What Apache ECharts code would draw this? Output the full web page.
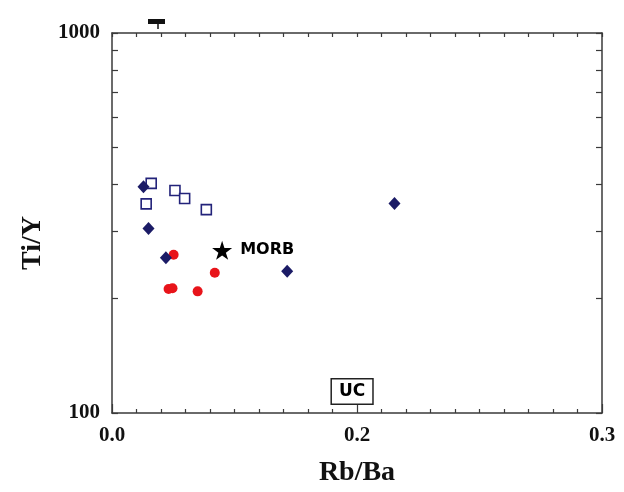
<!DOCTYPE html>
<html>
<head>
<meta charset="utf-8">
<script src="https://cdn.jsdelivr.net/npm/echarts@6/dist/echarts.min.js"></script>
<style>
  html, body { margin: 0; padding: 0; background: #fff; }
  #main { width: 624px; height: 492px; }
</style>
</head>
<body>
<div id="main"></div>
<script>
// values (x = Rb/Ba, y = Ti/Y)
const diamondRbBa = [0.0257, 0.0298, 0.044, 0.143, 0.2306];
const diamondTiY = [394, 306, 256, 236, 356];

const squareRbBa = [0.032, 0.0279, 0.0514, 0.0593, 0.077];
const squareTiY = [402, 355, 385, 367, 343];

const circleRbBa = [0.0503, 0.0839, 0.0462, 0.0494, 0.0699];
const circleTiY = [261, 234, 212, 213, 209];

const morbPoint = [0.0899, 268];
const ucPoint = [0.196, 114];

// tick labels as printed in the figure
const xTickValues = [0, 0.2, 0.4];
const xTickLabels = ["0.0", "0.2", "0.3"];
const yTickLabels = [100, 1000];
const yMinorTicks = [100, 200, 300, 400, 500, 600, 700, 800, 900, 1000];

function pairs(xs, ys) {
  return xs.map((x, i) => [x, ys[i]]);
}

const axisColor = "#3a3a3a";
const labelFont = {
  fontFamily: "Liberation Serif",
  fontWeight: "bold",
  fontSize: 21,
  color: "#111",
};
const starPath = "path://M50,0 L61,35 L98,35 L68,57 L79,91 L50,70 L21,91 L32,57 L2,35 L39,35 Z";

const options = {
  animation: false,
  grid: { left: 112, right: 22, top: 33, bottom: 78 },
  xAxis: [
    {
      type: "value",
      position: "bottom",
      min: 0,
      max: 0.4,
      interval: 0.2,
      name: "Rb/Ba",
      nameLocation: "middle",
      nameGap: 46,
      nameTextStyle: { fontFamily: "Liberation Serif", fontWeight: "bold", fontSize: 28, color: "#111" },
      axisLine: { onZero: false, lineStyle: { color: axisColor, width: 1.5 } },
      axisTick: { inside: true, length: 9, lineStyle: { color: axisColor, width: 1.2 } },
      minorTick: { show: true, splitNumber: 10, length: 4, lineStyle: { color: axisColor, width: 1.2 } },
      splitLine: { show: false },
      axisLabel: Object.assign({
        margin: 12,
        showMinLabel: true,
        showMaxLabel: true,
        formatter: (v) => {
          const i = xTickValues.findIndex((t) => Math.abs(t - v) < 1e-9);
          return i >= 0 ? xTickLabels[i] : "";
        },
      }, labelFont),
    },
    {
      type: "value",
      position: "top",
      min: 0,
      max: 0.4,
      interval: 0.2,
      axisLine: { onZero: false, lineStyle: { color: axisColor, width: 1.5 } },
      axisTick: { inside: true, length: 4, lineStyle: { color: axisColor, width: 1.2 } },
      minorTick: { show: true, splitNumber: 10, length: 4, lineStyle: { color: axisColor, width: 1.2 } },
      splitLine: { show: false },
      axisLabel: { show: false },
    },
  ],
  yAxis: [
    {
      type: "log",
      position: "left",
      logBase: 10,
      min: 100,
      max: 1000,
      name: "Ti/Y",
      nameLocation: "middle",
      nameGap: 62,
      nameTextStyle: {
        fontFamily: "Liberation Serif", fontWeight: "bold", fontSize: 28, color: "#111",
        padding: [0, 40, 0, 0],
      },
      axisLine: { onZero: false, lineStyle: { color: axisColor, width: 1.5 } },
      axisTick: { show: true, inside: true, length: 6, customValues: yMinorTicks, lineStyle: { color: axisColor, width: 1.2 } },
      splitLine: { show: false },
      axisLabel: Object.assign({
        margin: 12,
        customValues: yTickLabels,
        showMinLabel: true,
        showMaxLabel: true,
        formatter: (v) => String(Math.round(v)),
      }, labelFont),
    },
    {
      type: "log",
      position: "right",
      logBase: 10,
      min: 100,
      max: 1000,
      axisLine: { show: true, onZero: false, lineStyle: { color: axisColor, width: 1.5 } },
      axisTick: { show: true, inside: true, length: 6, customValues: yMinorTicks, lineStyle: { color: axisColor, width: 1.2 } },
      splitLine: { show: false },
      axisLabel: { show: false },
    },
  ],
  series: [
    {
      name: "squares",
      type: "scatter",
      symbol: "rect",
      symbolSize: 10,
      itemStyle: { color: "#fff", borderColor: "#23237a", borderWidth: 1.6, opacity: 1 },
      data: pairs(squareRbBa, squareTiY),
    },
    {
      name: "circles",
      type: "scatter",
      symbol: "circle",
      symbolSize: 10,
      itemStyle: { color: "#e8141a", opacity: 1 },
      data: pairs(circleRbBa, circleTiY),
    },
    {
      name: "diamonds",
      type: "scatter",
      symbol: "diamond",
      symbolSize: [12, 13],
      itemStyle: { color: "#1b1b66", opacity: 1 },
      data: pairs(diamondRbBa, diamondTiY),
    },
    {
      name: "MORB",
      type: "scatter",
      symbol: starPath,
      symbolKeepAspect: true,
      symbolSize: 20,
      itemStyle: { color: "#000", opacity: 1 },
      label: {
        show: true,
        position: "right",
        distance: 8,
        formatter: "MORB",
        fontFamily: "DejaVu Sans",
        fontWeight: "bold",
        fontSize: 16,
        color: "#000",
      },
      data: [morbPoint],
    },
    {
      name: "UC",
      type: "scatter",
      symbolSize: 0,
      itemStyle: { opacity: 1 },
      label: {
        show: true,
        position: "inside",
        formatter: "UC",
        fontFamily: "DejaVu Sans",
        fontWeight: "bold",
        fontSize: 17,
        color: "#000",
        backgroundColor: "#fff",
        borderColor: "#222",
        borderWidth: 1.5,
        padding: [4, 7, 3, 7],
      },
      data: [ucPoint],
    },
  ],
  graphic: [
    // small cropped mark above the top frame in the source figure
    { type: "rect", shape: { x: 148, y: 19, width: 17, height: 5 }, style: { fill: "#111" } },
    { type: "line", shape: { x1: 158, y1: 24, x2: 158, y2: 29 }, style: { stroke: "#111", lineWidth: 1.5 } },
  ],
};

let myChart = echarts.init(document.getElementById("main"));
myChart.setOption(options);
</script>
</body>
</html>
